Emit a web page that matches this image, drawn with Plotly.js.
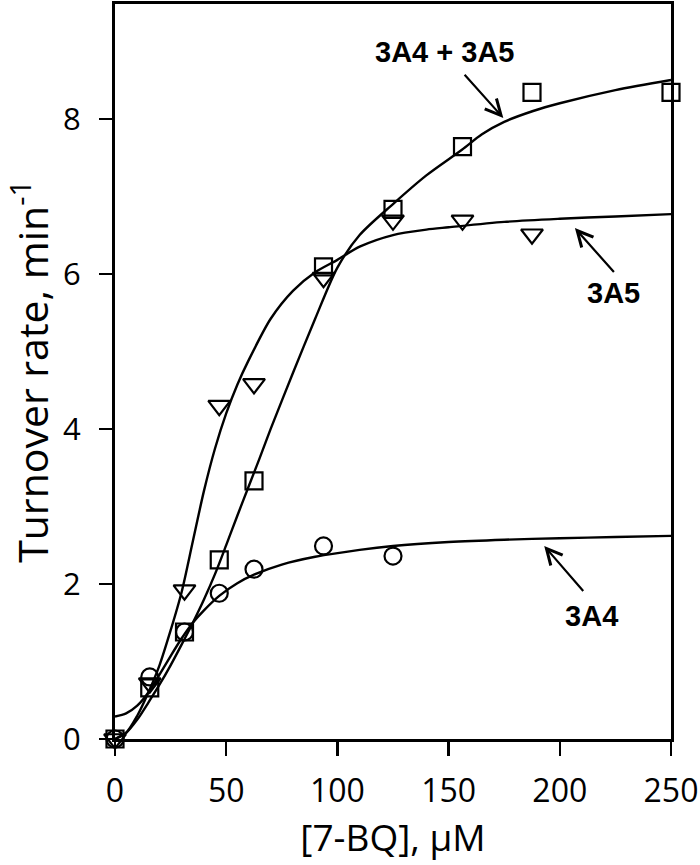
<!DOCTYPE html>
<html><head><meta charset="utf-8">
<script src="https://cdn.plot.ly/plotly-3.0.1.min.js"></script>
<style>html,body{margin:0;padding:0;background:#fff}#chart{width:700px;height:865px}</style>
</head><body><div id="chart"></div>
<script>
const conc = [0, 15.625, 31.25, 46.875, 62.5, 93.75, 125, 156.25, 187.5, 250];
const rateMix = [0, 0.66, 1.38, 2.31, 3.33, 6.09, 6.83, 7.64, 8.34, 8.34];
const conc3A5 = [0, 15.625, 31.25, 46.875, 62.5, 93.75, 125, 156.25, 187.5];
const rate3A5 = [0, 0.72, 1.92, 4.30, 4.58, 5.95, 6.69, 6.69, 6.51];
const conc3A4 = [0, 15.625, 31.25, 46.875, 62.5, 93.75, 125];
const rate3A4 = [0, 0.80, 1.38, 1.88, 2.19, 2.49, 2.36];

// fitted curves
const fitMixX = [0, 5, 10, 15, 20, 25, 30, 35, 40, 45, 50, 55, 60, 65, 70, 80, 90, 100, 110, 125, 140, 156, 165, 175, 188, 200, 225, 250];
const fitMixY = [0, 0.08, 0.25, 0.47, 0.7, 0.95, 1.22, 1.5, 1.8, 2.13, 2.5, 2.88, 3.25, 3.62, 4.0, 4.72, 5.42, 6.08, 6.5, 6.9, 7.27, 7.6, 7.8, 7.96, 8.1, 8.2, 8.37, 8.5];
const fit3A5X = [0, 5, 10, 15, 20, 25, 30, 35, 40, 45, 50, 55, 60, 70, 80, 90, 100, 110, 125, 140, 150, 175, 200, 225, 250];
const fit3A5Y = [0, 0.08, 0.3, 0.6, 0.95, 1.4, 1.9, 2.55, 3.2, 3.75, 4.2, 4.57, 4.88, 5.42, 5.78, 6.02, 6.18, 6.35, 6.5, 6.57, 6.6, 6.67, 6.71, 6.74, 6.77];
const fit3A4X = [0, 5, 10, 15, 20, 25, 30, 35, 40, 47, 55, 62.5, 75, 90, 110, 125, 150, 175, 200, 225, 250];
const fit3A4Y = [0.29, 0.33, 0.43, 0.6, 0.83, 1.07, 1.3, 1.5, 1.66, 1.85, 2.01, 2.12, 2.25, 2.35, 2.44, 2.49, 2.54, 2.57, 2.59, 2.605, 2.62];

const xTicks = [0, 50, 100, 150, 200, 250];
const yTicks = [0, 2, 4, 6, 8];

const lineStyle = {color: '#000', width: 2.4, shape: 'spline', smoothing: 0.8};
const mk = (sym, size) => ({symbol: sym, size: size, color: '#000', line: {color: '#000', width: 2.2}});

const traces = [
  {x: fit3A4X, y: fit3A4Y, mode: 'lines', line: lineStyle, hoverinfo: 'skip'},
  {x: fit3A5X, y: fit3A5Y, mode: 'lines', line: lineStyle, hoverinfo: 'skip'},
  {x: fitMixX, y: fitMixY, mode: 'lines', line: lineStyle, hoverinfo: 'skip'},
  {x: conc3A4, y: rate3A4, mode: 'markers', name: '3A4', marker: mk('circle-open', 17), cliponaxis: false},
  {x: conc3A5, y: rate3A5, mode: 'markers', name: '3A5', marker: mk('triangle-down-open', 19), cliponaxis: false},
  {x: conc, y: rateMix, mode: 'markers', name: '3A4 + 3A5', marker: mk('square-open', 17), cliponaxis: false}
];

const labelFont = {family: 'Liberation Sans, Arial, sans-serif', size: 29, weight: 'bold', color: '#000'};
const arrowStyle = {showarrow: true, arrowhead: 5, arrowsize: 1.4, arrowwidth: 2.2, arrowcolor: '#000', font: labelFont, xref: 'x', yref: 'y'};

const layout = {
  width: 700, height: 865,
  margin: {l: 115, r: 29, t: 4, b: 126, pad: 0},
  paper_bgcolor: '#fff', plot_bgcolor: '#fff',
  showlegend: false,
  font: {family: 'Open Sans, Noto Sans, sans-serif', color: '#000'},
  xaxis: {
    range: [0, 250], tickvals: xTicks, ticktext: xTicks.map(String),
    ticks: 'outside', ticklen: 14, tickwidth: 2.5, tickcolor: '#000',
    showline: true, linewidth: 3, linecolor: '#000', mirror: true,
    showgrid: false, zeroline: false, automargin: false,
    tickfont: {size: 32}, ticklabelstandoff: 8,
    title: {text: '[7-BQ], μM', font: {size: 37}, standoff: 15}
  },
  yaxis: {
    range: [0, 9.48], tickvals: yTicks, ticktext: yTicks.map(String),
    ticks: 'outside', ticklen: 13, tickwidth: 2.5, tickcolor: '#000',
    showline: true, linewidth: 3, linecolor: '#000', mirror: true,
    showgrid: false, zeroline: false, automargin: false,
    tickfont: {size: 31}, ticklabelstandoff: 12,
    title: {text: 'Turnover rate, min<sup>-1</sup>', font: {size: 41}, standoff: 9}
  },
  annotations: [
    Object.assign({}, arrowStyle, {x: 174.6, y: 8.01, ax: -59, ay: -66, text: '3A4 + 3A5',
      xanchor: 'center', yanchor: 'middle', startstandoff: 7}),
    Object.assign({}, arrowStyle, {x: 206.8, y: 6.59, ax: 39, ay: 44, text: '3A5',
      xanchor: 'center', yanchor: 'top', borderpad: 4}),
    Object.assign({}, arrowStyle, {x: 193.0, y: 2.49, ax: 39, ay: 45, text: '\u00A0\u00A03A4',
      xanchor: 'center', yanchor: 'top', borderpad: 8})
  ]
};

Plotly.newPlot('chart', traces, layout, {staticPlot: true, displayModeBar: false});
</script>
</body></html>
